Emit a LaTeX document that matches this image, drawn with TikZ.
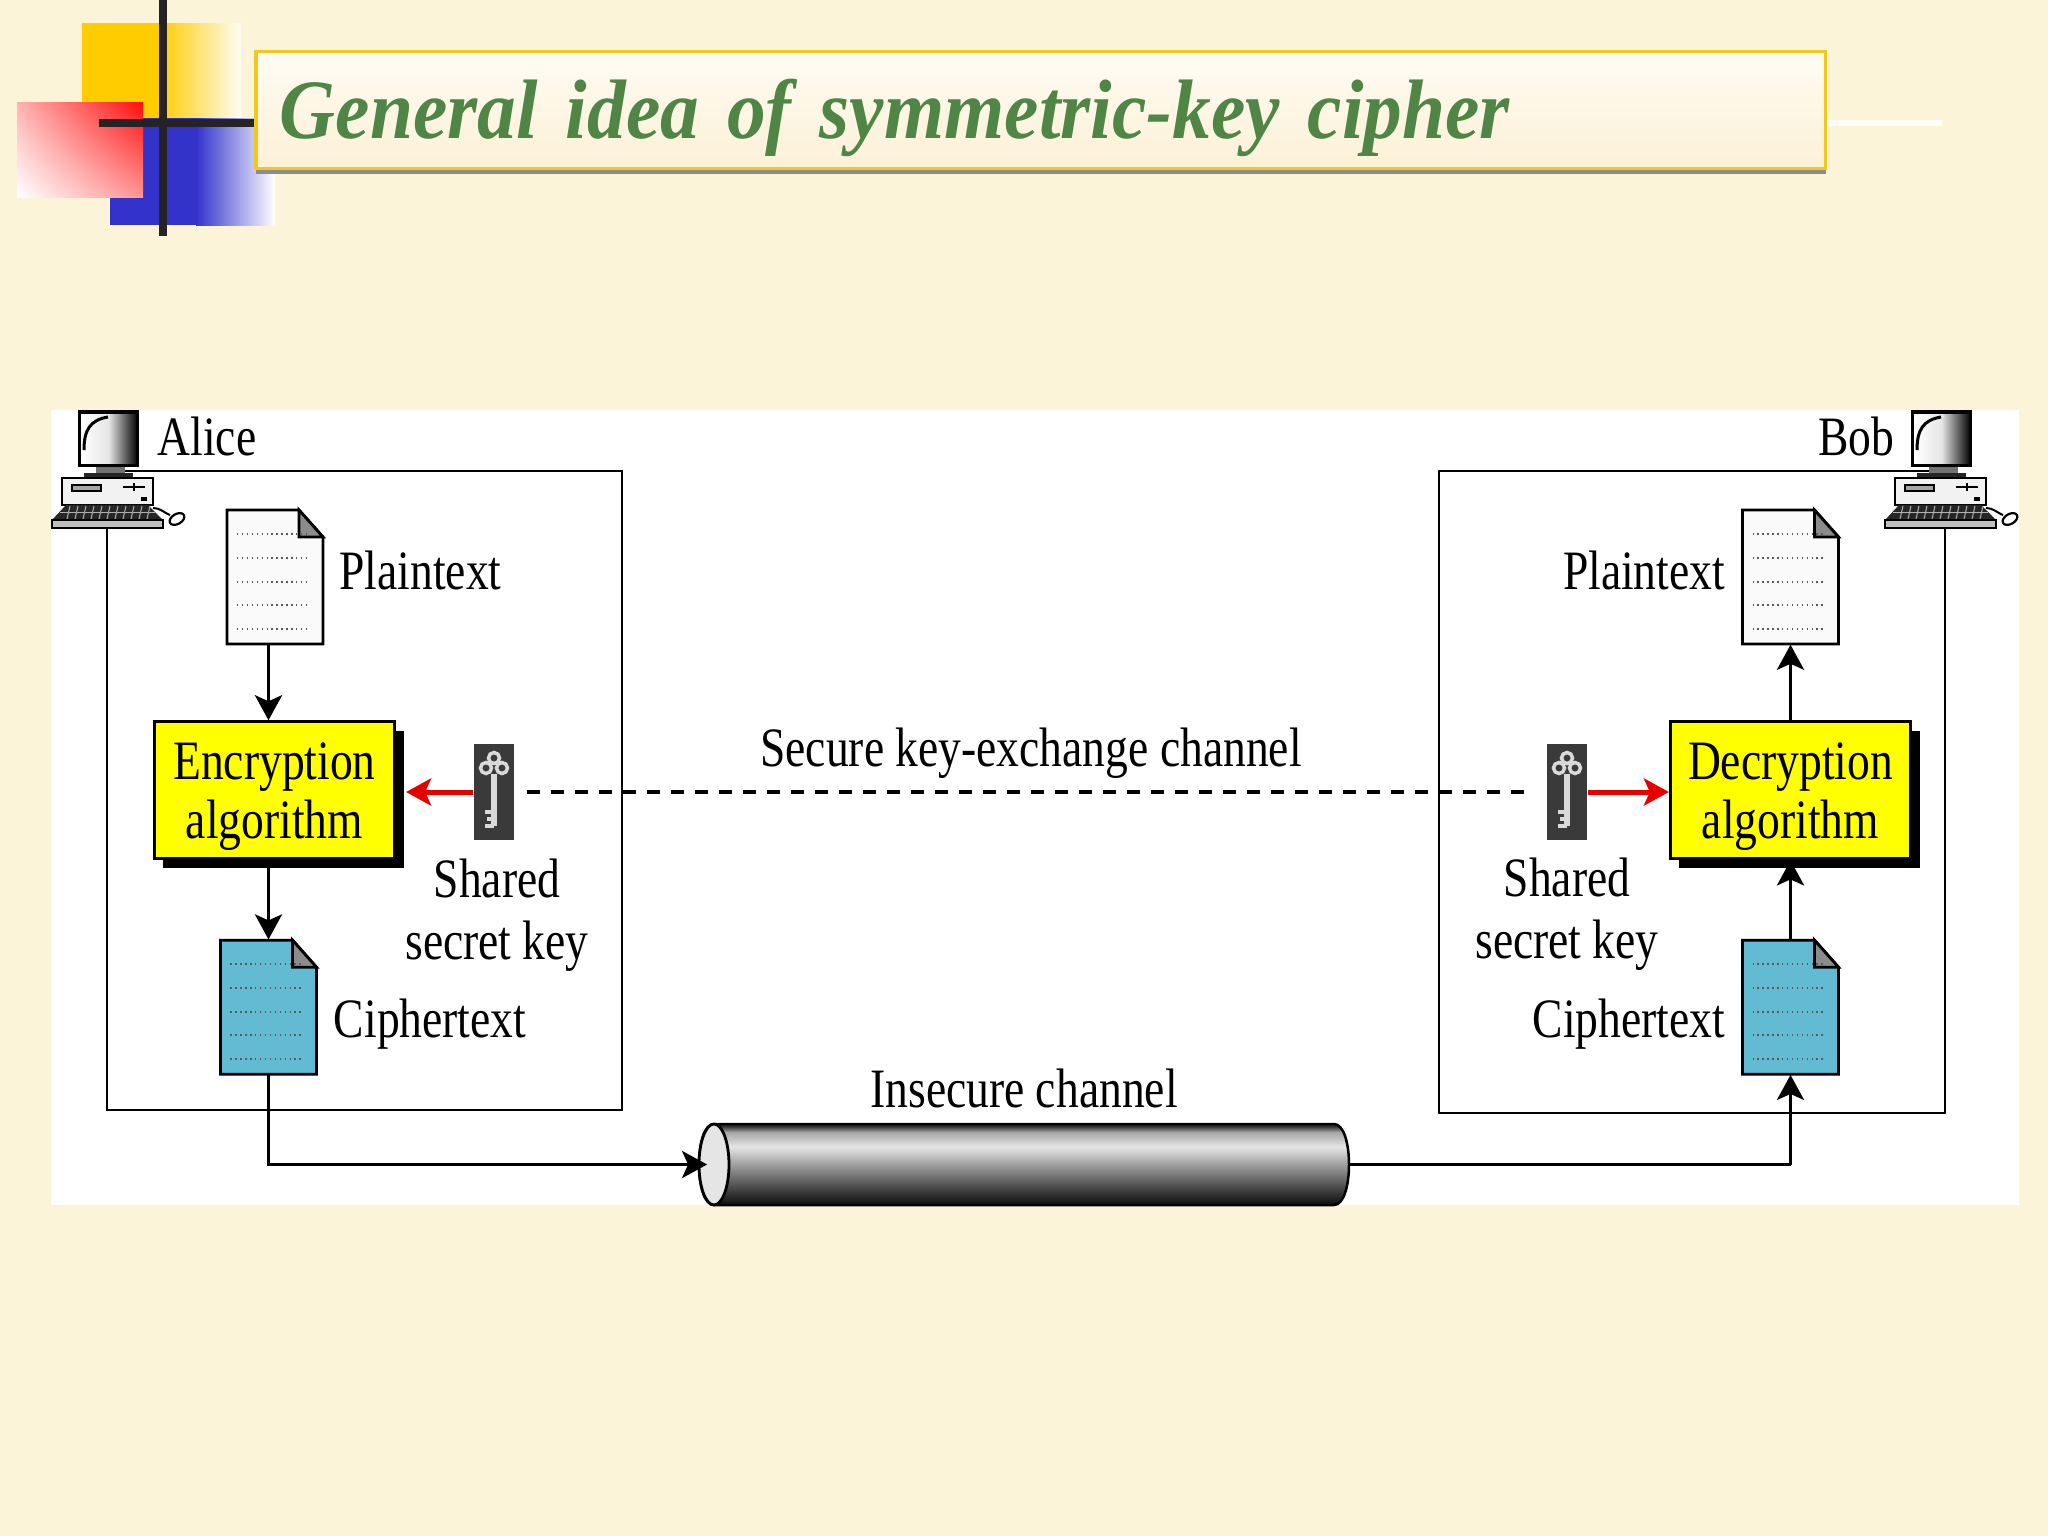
\documentclass[tikz,border=0pt]{standalone}
\usepackage{fontspec}
\setmainfont{Liberation Serif}
\newfontfamily\figfont[FakeStretch=.82]{Liberation Serif}
\newfontfamily\headfont[FakeStretch=.917,WordSpace=.62]{Liberation Serif}
\usetikzlibrary{positioning,shadows,shadings,arrows.meta}

\definecolor{paper}{HTML}{FCF4D8}
\definecolor{headgreen}{HTML}{4F8545}
\definecolor{headgold}{HTML}{F0C820}
\definecolor{squareyellow}{HTML}{FFCC00}
\definecolor{squareblue}{HTML}{3333CC}
\definecolor{algoyellow}{HTML}{FFFF00}
\definecolor{cipherblue}{HTML}{62BBD2}
\definecolor{keygrey}{HTML}{3A3A3A}
\definecolor{inkbar}{HTML}{262326}

\pgfdeclareverticalshading{pipeshade}{100bp}{
  color(0bp)=(black!95); color(25bp)=(black!95); color(32bp)=(black!80);
  color(47bp)=(black!45); color(61bp)=(black!10); color(70bp)=(black!35);
  color(73.5bp)=(black!80); color(75bp)=(black!85); color(100bp)=(black!85)}

% one sheet of paper, drawn over the empty node #1
\newcommand{\sheet}[2]{
  \begin{scope}[shift={(#1.center)}]
    \draw[boxline,fill=#2] (-48,-67) -- (24,-67) -- (48,-40) -- (48,67) -- (-48,67) -- cycle;
    \draw[boxline,fill=black!45] (24,-67) -- (24,-40) -- (48,-40) -- cycle;
    \foreach \ly in {-43,-19,5,28,52}
      \draw[black!65,line width=.014cm,densely dotted] (-38,\ly) -- (34,\ly);
  \end{scope}}

% the key on its dark plate #1
\newcommand{\keyicon}[1]{
  \begin{scope}[shift={(#1.center)},draw=black!15]
    \draw[line width=.035cm] (0,-34) circle (5.5) (-8,-24) circle (5.5) (8,-24) circle (5.5);
    \draw[line width=.06cm] (0,-18) -- (0,34);
    \draw[line width=.035cm] (0,20) -- (-9,20) (0,27) -- (-7,27) (0,34) -- (-9,34);
  \end{scope}}

% desktop computer, shifted sideways by #1
\newcommand{\desktop}[1]{
  \begin{scope}[shift={(#1,0)}]
    \fill[black] (78,410) rectangle (139,467);
    \shade[left color=white,right color=black!95,middle color=black!10] (81,414) rectangle (136,463);
    \draw[black,line width=.03cm] (84,450) .. controls (84,430) and (90,420) .. (108,417);
    \fill[black!55] (96,467) rectangle (125,473);
    \fill[black!85] (84,473) rectangle (133,478);
    \draw[line width=.022cm,fill=black!5] (62,478) rectangle (153,505);
    \draw[line width=.012cm,fill=black!35] (72,485) rectangle (101,491);
    \draw[line width=.025cm] (123,487) -- (145,487) (134,483) -- (134,491);
    \fill[black] (141,497) rectangle (147,501);
    \fill[black!85] (66,505) -- (148,505) -- (163,520) -- (52,520) -- cycle;
    \foreach \kx in {70,78,...,150}
      \draw[black!30,line width=.01cm] (\kx,506) -- (\kx-3,519);
    \draw[black!30,line width=.01cm] (60,512) -- (155,512);
    \draw[line width=.022cm,fill=black!25] (52,520) rectangle (163,528);
    \draw[line width=.02cm] (153,508) .. controls (160,508) and (163,512) .. (170,515);
    \draw[line width=.022cm,fill=white,rotate around={30:(177,519)}] (177,519) ellipse (8 and 5);
  \end{scope}}

\begin{document}
\begin{tikzpicture}[
  x=.01cm,y=-.01cm,
  >={Stealth[length=.25cm,width=.27cm,inset=.06cm]},
  boxline/.style={black,line width=.028cm},
  flow/.style={black,line width=.036cm},
  lab/.style={inner sep=0pt,font=\figfont\fontsize{15.8pt}{17pt}\selectfont,align=center},
  docfile/.style={minimum width=.96cm,minimum height=1.34cm,inner sep=0pt},
  algo/.style={draw=black,line width=.03cm,fill=algoyellow,minimum width=2.4cm,minimum height=1.37cm,
    inner sep=0pt,font=\figfont\fontsize{15.8pt}{16.8pt}\selectfont,align=center,
    drop shadow={shadow xshift=.09cm,shadow yshift=-.09cm,fill=black,opacity=1}},
  keyplate/.style={fill=keygrey,minimum width=.4cm,minimum height=.95cm,inner sep=0pt}]

  \fill[paper] (0,0) rectangle (2048,1536);
  \useasboundingbox (0,0) rectangle (2048,1536);

  % corner squares
  \fill[squareyellow] (82,23) rectangle (159,118);
  \shade[left color=squareyellow,right color=paper!30!white] (159,23) rectangle (241,118);
  \fill[squareblue] (110,118) rectangle (196,225);
  \shade[left color=squareblue,right color=white] (196,118) rectangle (275,225);
  \shade[upper right=red!95!white,upper left=red!30!white,lower left=white,lower right=red!42!white] (17,102) rectangle (143,197);
  \fill[inkbar] (159,0) rectangle (167,236);
  \fill[inkbar] (99,119) rectangle (255,127);
  \fill[white!80!paper] (1827,120) rectangle (1942,126);

  \node[draw=headgold,line width=.035cm,top color=white!70!paper,bottom color=white!25!paper!95!orange,
    minimum height=1.17cm,text width=15.21cm,inner xsep=.24cm,inner ysep=0pt,anchor=west,
    text height=.78cm,text depth=.22cm,
    general shadow={shadow yshift=-.05cm,fill=black!45,opacity=1},text=headgreen,
    font=\headfont\bfseries\itshape\fontsize{24pt}{26pt}\selectfont] (title) at (254,110)
    {General idea of symmetric-key cipher};

  \fill[white] (51,410) rectangle (2019,1205);

  \draw[boxline] (107,471) rectangle (622,1110);
  \draw[boxline] (1439,471) rectangle (1945,1113);
  \desktop{0}
  \desktop{1833}
  \node[lab,anchor=west] (alice) at (157,436) {Alice};
  \node[lab,anchor=east] (bob) at (1895,436) {Bob};

  % sender
  \node[docfile] (ptA) at (275,577) {};
  \sheet{ptA}{black!2}
  \node[lab,right=.15cm of ptA,yshift=.07cm] (ptAlab) {Plaintext};
  \node[algo,below=.755cm of ptA,xshift=-.005cm] (encA) {\rule{0pt}{.5cm}Encryption\\algorithm};
  \node[docfile,below=.79cm of encA,xshift=-.06cm] (ctA) {};
  \sheet{ctA}{cipherblue}
  \node[lab,right=.16cm of ctA,yshift=-.17cm] (ctAlab) {Ciphertext};
  \node[keyplate] (keyA) at (494,792) {};
  \keyicon{keyA}
  \node[lab] (secA) at (497,915) {Shared\\[.5pt]secret key};

  % receiver
  \node[docfile] (ptB) at (1790.5,577) {};
  \sheet{ptB}{black!2}
  \node[lab,left=.16cm of ptB,yshift=.07cm] (ptBlab) {Plaintext};
  \node[algo,below=.755cm of ptB] (decB) {\rule{0pt}{.5cm}Decryption\\algorithm};
  \node[docfile,below=.79cm of decB] (ctB) {};
  \sheet{ctB}{cipherblue}
  \node[lab,left=.16cm of ctB,yshift=-.17cm] (ctBlab) {Ciphertext};
  \node[keyplate] (keyB) at (1567,792) {};
  \keyicon{keyB}
  \node[lab] (secB) at (1567,914) {Shared\\[.5pt]secret key};

  % pipe
  \node[minimum width=6.41cm,minimum height=.81cm,inner sep=0pt] (pipe) at (1028.5,1164.5) {};
  \path[shading=pipeshade,draw=black,line width=.025cm] (714,1124) -- (1334,1124)
    .. controls (1354,1124) and (1354,1205) .. (1334,1205) -- (714,1205)
    .. controls (694,1205) and (694,1124) .. (714,1124) -- cycle;
  \draw[boxline,fill=black!10] (714,1164.5) ellipse (15 and 40.5);
  \node[lab] (pipelab) at (1024,1088) {Insecure channel};
  \node[lab] (chanlab) at (1031,753) {Secure key-exchange channel};

  \draw[->,flow] ([xshift=-.065cm]ptA.south) -- ([xshift=-.06cm]encA.north);
  \draw[->,flow] ([xshift=-.06cm]encA.south) -- (ctA.north);
  \draw[->,flow] (ctA.south) |- (pipe.west);
  \draw[flow] (pipe.east) -- (pipe.east -| ctB.south);
  \draw[->,flow] (pipe.east -| ctB.south) -- (ctB.south);
  \draw[->,flow] (ctB.north) -- (decB.south);
  \draw[->,flow] (decB.north) -- (ptB.south);
  \draw[->,red!90!black,line width=.05cm,shorten >=.1cm] (keyA.west) -- (keyA.west -| encA.east);
  \draw[->,red!90!black,line width=.05cm] (keyB.east) -- (keyB.east -| decB.west);
  \draw[black,line width=.048cm,dash pattern=on .13cm off .11cm,shorten <=.12cm,shorten >=.19cm] (keyA.east) -- (keyB.west);
\end{tikzpicture}
\end{document}
